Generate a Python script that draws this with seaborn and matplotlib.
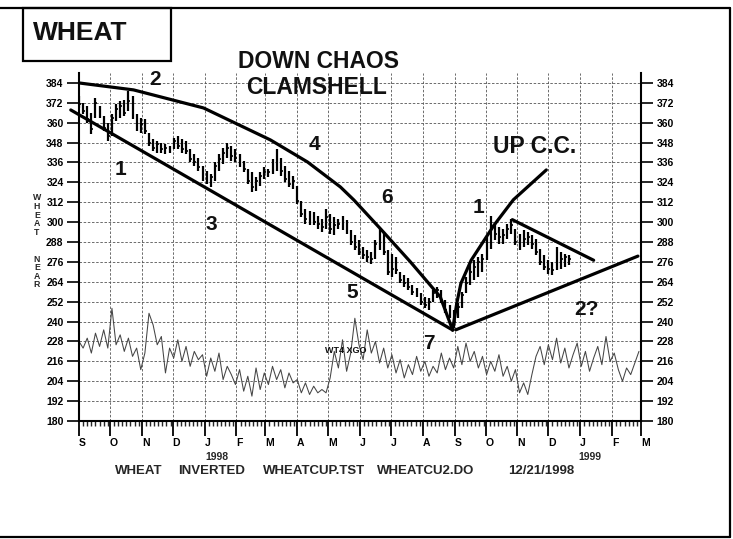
import numpy as np
import pandas as pd
import matplotlib
matplotlib.use("Agg")
import matplotlib.pyplot as plt
import matplotlib.dates as mdates
from matplotlib.lines import Line2D
from matplotlib.patches import Rectangle
import seaborn as sns

sns.set_theme(style="white")
plt.rcParams['font.family'] = ['Liberation Sans', 'DejaVu Sans']
plt.rcParams['font.weight'] = 'bold'

# ---------------- data ----------------
bar_start = "1997-09-01"
bar_high = [376, 372, 370, 366, 375, 370, 364, 360, 365, 371, 373, 374, 379, 376, 365, 363,
            362, 354, 350, 349, 348, 347, 346, 351, 352, 350, 349, 344, 341, 339, 334, 331,
            329, 336, 341, 345, 348, 346, 344, 341, 337, 332, 330, 327, 330, 333, 332, 338,
            344, 339, 334, 331, 328, 322, 313, 308, 307, 306, 304, 302, 308, 305, 303, 302,
            304, 301, 295, 292, 289, 285, 283, 282, 289, 296, 294, 283, 281, 279, 270, 268,
            266, 262, 260, 257, 255, 254, 259, 261, 259, 253, 250, 247, 251, 258, 267, 275,
            277, 279, 281, 291, 304, 299, 297, 296, 299, 302, 296, 293, 295, 294, 292, 290,
            284, 280, 277, 276, 285, 282, 281, 280]
bar_low = [369, 365, 360, 353, 363, 363, 355, 349, 352, 361, 363, 364, 367, 362, 355, 354,
           353, 346, 343, 342, 342, 341, 342, 344, 344, 342, 341, 336, 334, 331, 325, 323,
           321, 325, 331, 335, 339, 337, 336, 333, 330, 323, 318, 319, 322, 326, 327, 329,
           331, 328, 324, 321, 320, 311, 303, 299, 298, 298, 296, 294, 296, 293, 292, 296,
           295, 293, 286, 283, 280, 278, 276, 275, 278, 283, 280, 268, 267, 269, 263, 261,
           259, 256, 255, 250, 248, 247, 252, 254, 251, 245, 242, 236, 242, 248, 257, 262,
           265, 267, 270, 277, 284, 289, 287, 287, 290, 293, 286, 283, 285, 286, 284, 280,
           274, 271, 269, 268, 271, 272, 273, 274]
bar_close = [371, 367, 362, 356, 372, 365, 357, 352, 363, 368, 370, 366, 373, 365, 358, 359,
             355, 348, 345, 347, 344, 345, 343, 349, 346, 344, 343, 338, 336, 333, 327, 326,
             327, 334, 338, 342, 345, 340, 339, 335, 332, 325, 321, 325, 328, 330, 330, 335,
             334, 331, 326, 323, 325, 313, 305, 302, 303, 300, 299, 297, 303, 296, 298, 299,
             298, 295, 288, 285, 282, 280, 279, 278, 287, 290, 282, 270, 272, 271, 265, 263,
             261, 258, 257, 252, 250, 252, 257, 259, 253, 247, 244, 240, 249, 256, 263, 270,
             273, 276, 278, 288, 296, 293, 291, 292, 296, 298, 288, 286, 290, 291, 287, 282,
             276, 273, 272, 271, 279, 278, 279, 278]

osc_start = "1997-09-01"
osc_values = [228, 224, 230, 221, 233, 225, 235, 224, 248, 226, 232, 222, 230, 219, 224, 211,
              221, 245, 238, 226, 231, 209, 224, 218, 229, 216, 225, 213, 222, 217, 220, 207,
              218, 210, 221, 205, 213, 208, 202, 211, 198, 207, 195, 212, 199, 209, 202, 213,
              205, 211, 200, 209, 203, 205, 197, 203, 196, 201, 197, 199, 197, 206, 222, 212,
              229, 210, 221, 242, 226, 217, 235, 221, 228, 215, 224, 212, 220, 209, 217, 206,
              214, 208, 219, 210, 216, 207, 213, 209, 221, 211, 218, 212, 225, 214, 227, 216,
              222, 212, 219, 208, 216, 210, 220, 207, 213, 204, 211, 197, 203, 196, 208, 219,
              225, 214, 226, 217, 230, 215, 224, 212, 220, 227, 213, 222, 210, 218, 225, 214,
              231, 216, 221, 211, 204, 212, 208, 215, 222]

upper_dates = ["1997-09-01", "1997-10-24", "1997-12-31", "1998-03-06", "1998-04-11",
               "1998-05-13", "1998-05-26", "1998-06-21", "1998-07-20", "1998-08-18", "1998-08-30"]
upper_vals = [384, 379.8, 368.9, 349.6, 336.3, 321.2, 313.4, 295.9, 276, 254.9, 234.9]
lower_dates = ["1997-08-24", "1998-08-30"]
lower_vals = [367.7, 234.9]
upcc_dates = ["1998-08-30", "1998-09-03", "1998-09-07", "1998-09-17", "1998-10-09",
              "1998-10-28", "1998-11-29"]
upcc_vals = [234.9, 251, 263, 277, 298, 313.5, 331.5]
rise_dates = ["1998-09-02", "1999-02-26"]
rise_vals = [235, 279.5]
fall_dates = ["1998-10-27", "1999-01-14"]
fall_vals = [301.5, 277]

month_letters = ["S", "O", "N", "D", "J", "F", "M", "A", "M", "J", "J", "A",
                 "S", "O", "N", "D", "J", "F", "M"]
y_ticks = list(range(180, 385, 12))

wave_labels = ["2", "1", "4", "3", "6", "5", "7", "1", "2?"]
wave_dates = ["1997-11-14", "1997-10-11", "1998-04-18", "1998-01-08", "1998-06-27",
              "1998-05-24", "1998-08-07", "1998-09-24", "1999-01-07"]
wave_vals = [385.8, 331.5, 346.6, 298.3, 314.6, 257.3, 227, 308.6, 247]

# ---------------- figure ----------------
W, H = 733, 539
fig = plt.figure(figsize=(W / 100, H / 100), dpi=100)
ax = fig.add_axes([79 / W, (H - 421) / H, (641 - 79) / W, (421 - 73) / H])

d2n = lambda s: mdates.date2num(pd.to_datetime(s))

xb = mdates.date2num(pd.date_range(bar_start, periods=len(bar_high), freq="4D"))
xo = mdates.date2num(pd.date_range(osc_start, periods=len(osc_values), freq="4D"))

# oscillator
sns.lineplot(x=xo, y=osc_values, ax=ax, color="#454545", lw=0.75, estimator=None, sort=False)

# OHLC bars
ax.vlines(xb, bar_low, bar_high, color="black", lw=1.6, zorder=3)
ax.hlines(bar_close, xb, xb + 1.8, color="black", lw=1.2, zorder=3)

# trend lines
for dts, vals, clip in [(upper_dates, upper_vals, True), (lower_dates, lower_vals, False),
                        (upcc_dates, upcc_vals, True), (rise_dates, rise_vals, True),
                        (fall_dates, fall_vals, True)]:
    sns.lineplot(x=d2n(dts), y=vals, ax=ax, color="black", lw=2.3,
                 estimator=None, sort=False)
    ax.lines[-1].set_clip_on(clip)
    ax.lines[-1].set_zorder(4)

# axes limits & ticks
ax.set_xlim(d2n("1997-09-01"), d2n("1999-03-01"))
ax.set_ylim(180, 390)
months = pd.date_range("1997-09-01", "1999-03-01", freq="MS")
ax.set_xticks(mdates.date2num(months))
ax.set_xticklabels(month_letters, ha="left")
minor = []
for m in months[:-1]:
    for d in (5, 9, 13, 17, 21, 25, 29):
        dt = m + pd.Timedelta(days=d - 1)
        if dt.month == m.month:
            minor.append(dt)
ax.set_xticks(mdates.date2num(pd.DatetimeIndex(minor)), minor=True)
ax.set_yticks(y_ticks)
ax.set_yticklabels([str(v) for v in y_ticks])

ax.tick_params(axis="x", which="major", direction="out", length=10.8, width=1.3,
               pad=1.5, labelsize=7.5, colors="black", bottom=True)
ax.tick_params(axis="x", which="minor", direction="out", length=3.8, width=1.0,
               bottom=True)
ax.tick_params(axis="y", which="major", direction="out", length=8.6, width=1.2,
               pad=2.5, labelsize=7.5, left=True, right=True,
               labelleft=True, labelright=True, colors="black")

ax.grid(True, which="major", ls=(0, (3, 2)), color="#555555", lw=0.6)
ax.set_axisbelow(True)
for s in ("left", "right", "bottom"):
    ax.spines[s].set_color("black")
    ax.spines[s].set_linewidth(1.5)
ax.spines["top"].set_visible(False)
ax.set_xlabel("")
ax.set_ylabel("")

# wave count labels
for t, d, v in zip(wave_labels, wave_dates, wave_vals):
    ax.text(d2n(d), v, t, fontsize=15, ha="center", va="center", color="#111111")
ax.text(d2n("1998-11-18"), 345.4, "UP C.C.", fontsize=16.5, ha="center", va="center",
        color="#111111")
ax.text(d2n("1998-05-18"), 222.5, "WT4 XGO", fontsize=6.5, ha="center", va="center",
        color="#111111")

# year labels
fig.text(217 / W, 1 - 457 / H, "1998", fontsize=7.5, ha="center", va="center")
fig.text(590 / W, 1 - 457 / H, "1999", fontsize=7.5, ha="center", va="center")

# titles
fig.text(318 / W, 1 - 62 / H, "DOWN CHAOS", fontsize=16.5, ha="center", va="center",
         color="#111111")
fig.text(317 / W, 1 - 87 / H, "CLAMSHELL", fontsize=16.5, ha="center", va="center",
         color="#111111")
fig.text(33 / W, 1 - 33 / H, "WHEAT", fontsize=19, ha="left", va="center", color="#111111")
fig.add_artist(Rectangle((23 / W, 1 - 61 / H), 148 / W, 53 / H, transform=fig.transFigure,
                         fill=False, edgecolor="black", lw=1.6))

# vertical axis title
for i, ch in enumerate("WHEAT"):
    fig.text(37 / W, 1 - (197 + 8.6 * i) / H, ch, fontsize=6.3, ha="center",
             va="center_baseline")
for i, ch in enumerate("NEAR"):
    fig.text(37 / W, 1 - (258 + 8.6 * i) / H, ch, fontsize=6.3, ha="center",
             va="center_baseline")

# footer
for word, xpx in zip(["WHEAT", "INVERTED", "WHEATCUP.TST", "WHEATCU2.DO", "12/21/1998"],
                     [115, 178, 263, 377, 508]):
    fig.text(xpx / W, 1 - 471.5 / H, word, fontsize=9.5, ha="left", va="center")

# outer frame
fig.add_artist(Line2D([0, 730 / W], [1 - 8 / H, 1 - 8 / H], transform=fig.transFigure,
                      color="black", lw=1.6))
fig.add_artist(Line2D([730 / W, 730 / W], [1 - 8 / H, 1 - 537 / H],
                      transform=fig.transFigure, color="black", lw=1.6))
fig.add_artist(Line2D([0, 730 / W], [1 - 537 / H, 1 - 537 / H],
                      transform=fig.transFigure, color="black", lw=1.6))

fig.savefig("out.png", dpi=100)
